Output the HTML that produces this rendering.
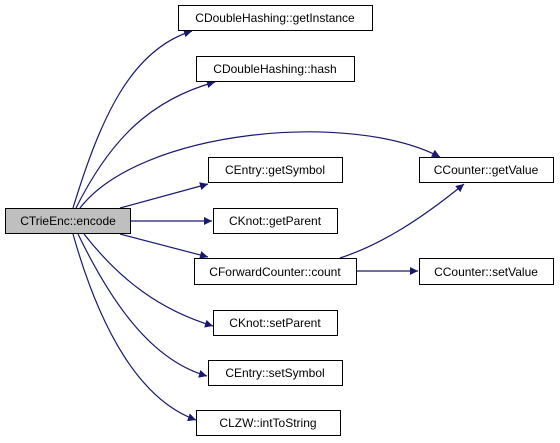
<!DOCTYPE html>
<html><head><style>
html,body{margin:0;padding:0;background:#fff;}
svg{display:block;}
text{font-family:"Liberation Sans",sans-serif;font-size:12px;fill:#000;}
</style></head><body>
<svg width="560" height="443" viewBox="0 0 560 443" xmlns="http://www.w3.org/2000/svg">
<defs><marker id="a" viewBox="0 0 10 10" refX="10" refY="5" markerWidth="10" markerHeight="8" orient="auto" markerUnits="userSpaceOnUse"><path d="M0,0 L10,5 L0,10 z" fill="#191970"/></marker></defs>
<g fill="none" stroke="#191970" stroke-width="1.2" marker-end="url(#a)">
<path d="M73,208 C100,120 130,50 192,31"/>
<path d="M76,208 C110,140 150,100 215,82"/>
<path d="M80,208 C140,130 350,110 440,157"/>
<path d="M120,208 L208,184"/>
<path d="M130,221 L212,221"/>
<path d="M120,234 L208,257"/>
<path d="M84,234 C120,280 160,310 213,326"/>
<path d="M78,234 C110,300 150,360 207,376"/>
<path d="M73,234 C100,330 140,400 196,420"/>
<path d="M340,258 C380,245 420,220 464,184"/>
<path d="M356,271 L418,271"/>
</g>
<g fill="#fff" stroke="#000" stroke-width="1">
<rect x="5.5" y="208.5" width="125" height="25" fill="#bfbfbf"/>
<rect x="178.5" y="5.5" width="194" height="25"/>
<rect x="196.5" y="56.5" width="158" height="25"/>
<rect x="208.5" y="157.5" width="134" height="25"/>
<rect x="213.5" y="208.5" width="124" height="25"/>
<rect x="194.5" y="258.5" width="162" height="26"/>
<rect x="213.5" y="310.5" width="124" height="25"/>
<rect x="208.5" y="360.5" width="134" height="25"/>
<rect x="196.5" y="410.5" width="144" height="25"/>
<rect x="419.5" y="157.5" width="134" height="25"/>
<rect x="419.5" y="258.5" width="134" height="26"/>
</g>
<g text-anchor="middle">
<text x="68" y="225">CTrieEnc::encode</text>
<text x="275" y="22">CDoubleHashing::getInstance</text>
<text x="275" y="73">CDoubleHashing::hash</text>
<text x="275" y="174">CEntry::getSymbol</text>
<text x="275" y="225">CKnot::getParent</text>
<text x="275" y="276">CForwardCounter::count</text>
<text x="275" y="327">CKnot::setParent</text>
<text x="275" y="377">CEntry::setSymbol</text>
<text x="268" y="427">CLZW::intToString</text>
<text x="486" y="174">CCounter::getValue</text>
<text x="486" y="276">CCounter::setValue</text>
</g>
</svg>
</body></html>
